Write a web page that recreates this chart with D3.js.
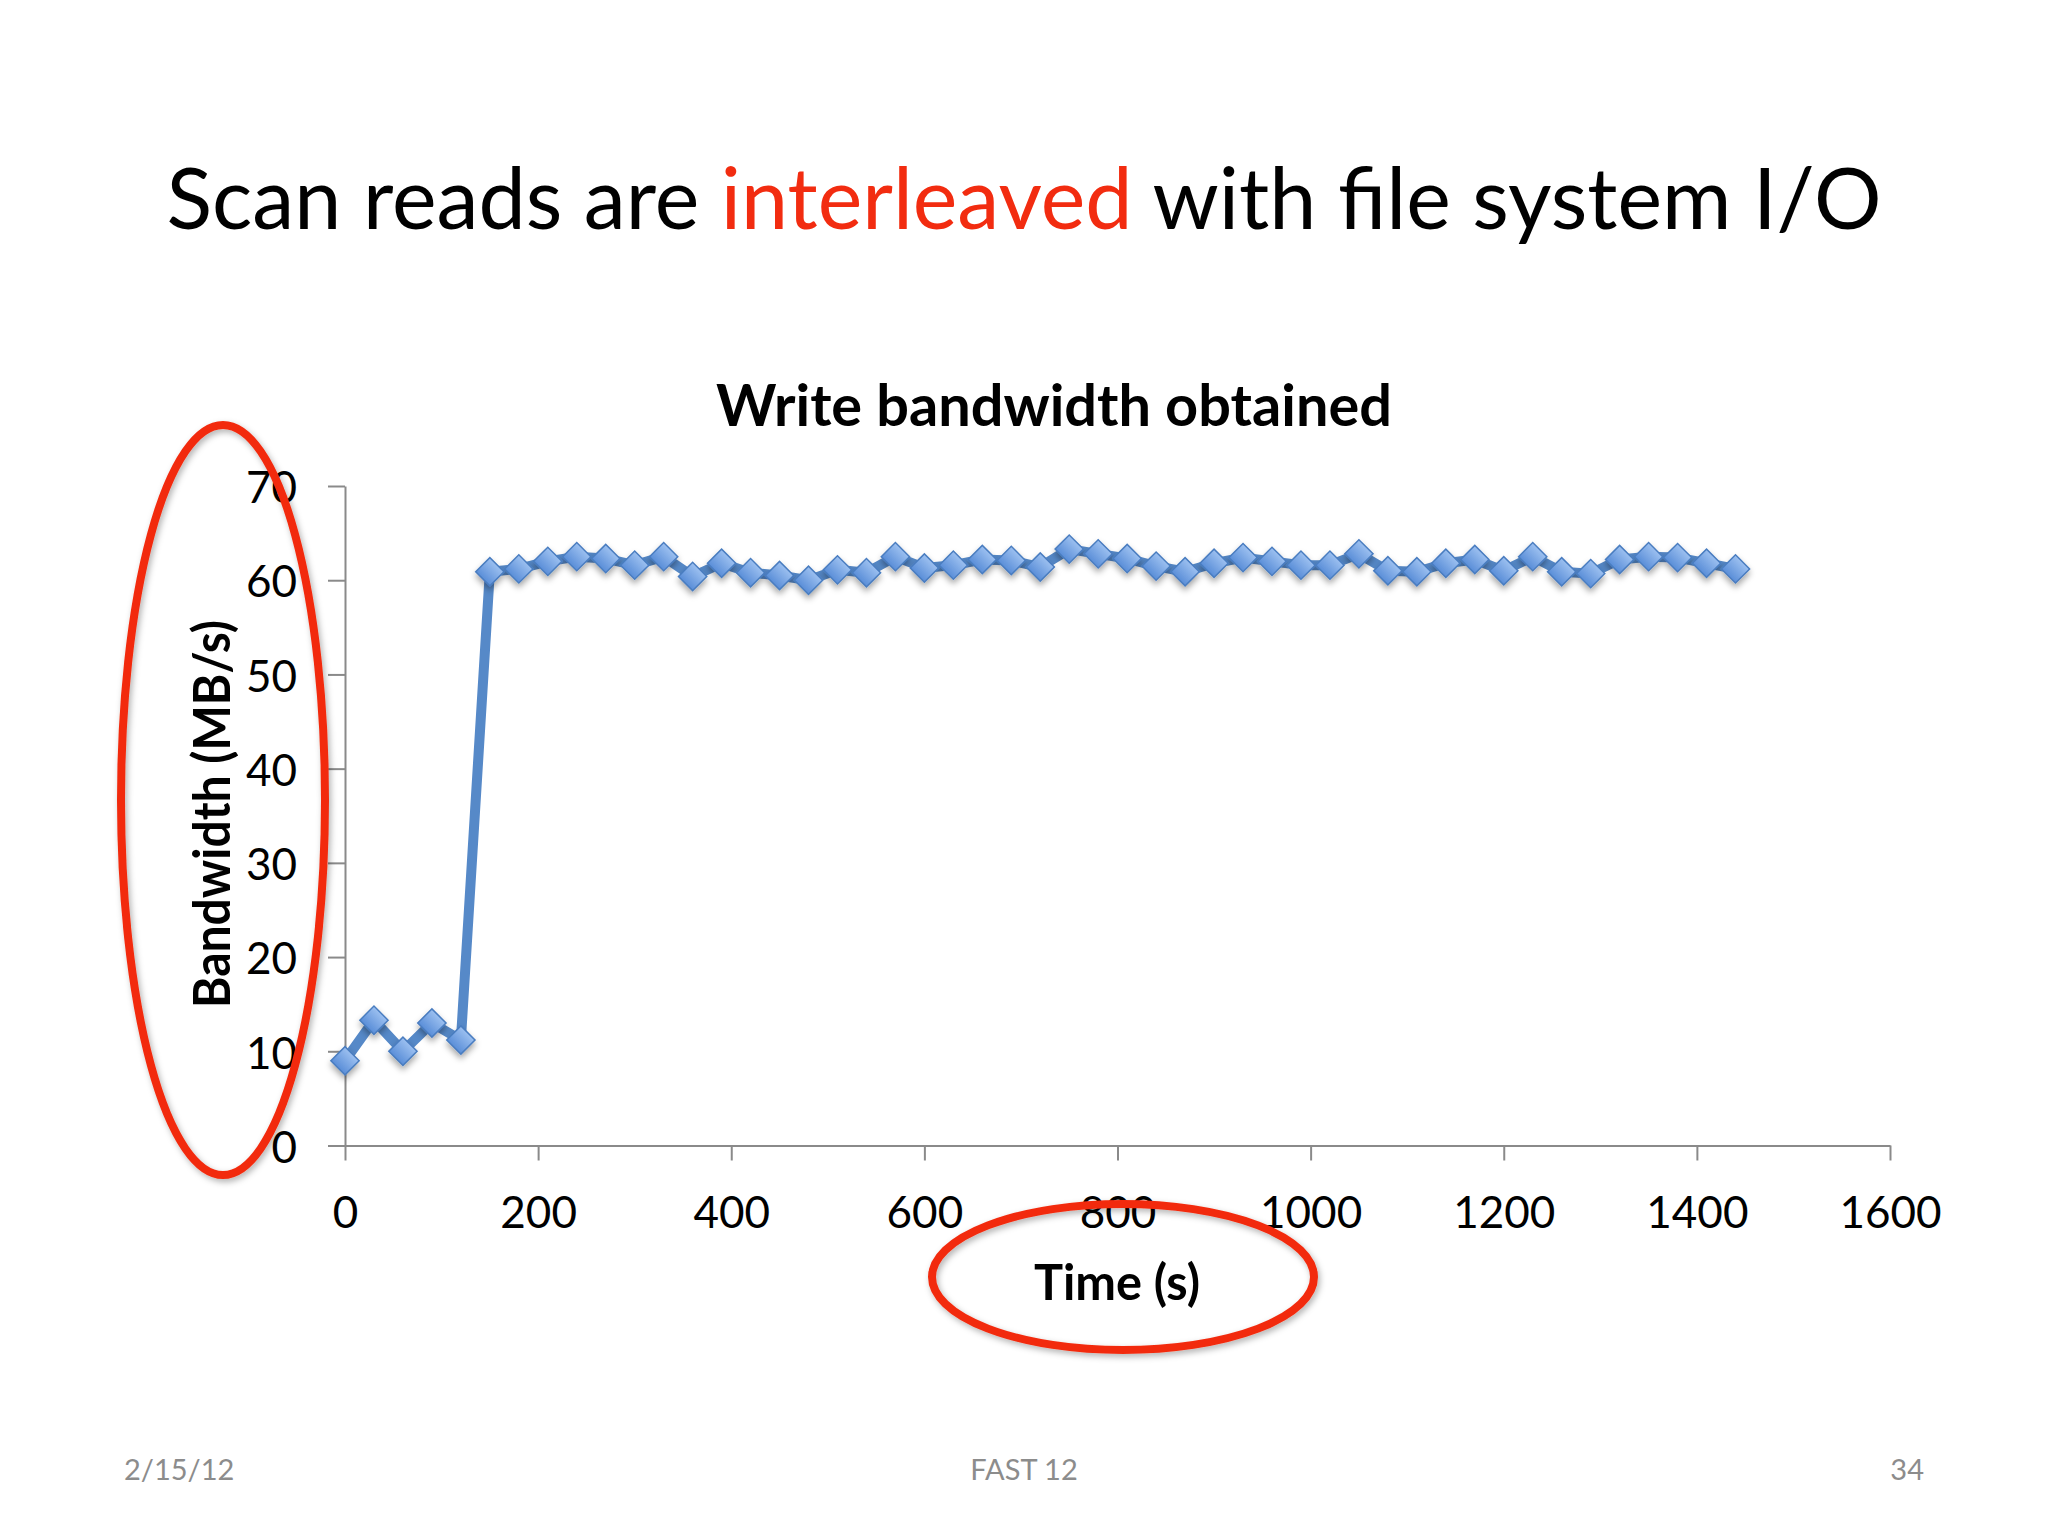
<!DOCTYPE html>
<html>
<head>
<meta charset="utf-8">
<script src="https://cdn.jsdelivr.net/npm/d3@7"></script>
<style>
  html, body { margin: 0; padding: 0; background: #ffffff; }
  svg { display: block; }
</style>
</head>
<body>
<svg id="chart" width="2048" height="1536"></svg>
<script>
// ---------------- data ----------------
const times = [0, 30, 60, 90, 120, 150, 180, 210, 240, 270, 300, 330, 360, 390,
  420, 450, 480, 510, 540, 570, 600, 630, 660, 690, 720, 750, 780, 810, 840, 870,
  900, 930, 960, 990, 1020, 1050, 1080, 1110, 1140, 1170, 1200, 1230, 1260, 1290,
  1320, 1350, 1380, 1410, 1440];
const bandwidth = [9.0, 13.3, 10.0, 13.0, 11.2, 60.9, 61.2, 62.0, 62.5, 62.3, 61.6, 62.5, 60.4, 61.8,
  60.8, 60.5, 60.0, 61.1, 60.8, 62.5, 61.3, 61.6, 62.2, 62.1, 61.4, 63.3, 62.8, 62.3, 61.5, 60.9,
  61.8, 62.4, 62.0, 61.6, 61.6, 62.8, 61.0, 60.9, 61.8, 62.2, 61.0, 62.5, 60.9, 60.7,
  62.2, 62.5, 62.4, 61.8, 61.2];
const xTicks = [0, 200, 400, 600, 800, 1000, 1200, 1400, 1600];
const yTicks = [0, 10, 20, 30, 40, 50, 60, 70];
const titleParts = [
  { text: "Scan reads are ", highlight: false },
  { text: "interleaved", highlight: true },
  { text: " with file system I/O", highlight: false }
];
const chartTitle = "Write bandwidth obtained";
const xLabel = "Time (s)";
const yLabel = "Bandwidth (MB/s)";
const footer = { left: "2/15/12", center: "FAST 12", right: "34" };

// ---------------- layout ----------------
const svg = d3.select("#chart");
const FONT = "Lato, 'Open Sans', 'DejaVu Sans', sans-serif";
const RED = "#f22c10";
const AXIS = "#8a8a8a";

const x = d3.scaleLinear().domain([0, 1600]).range([345, 1890]);
const y = d3.scaleLinear().domain([0, 70]).range([1145.5, 486]);

// defs
const defs = svg.append("defs");
const grad = defs.append("linearGradient").attr("id", "mk")
  .attr("x1", 0).attr("y1", 0).attr("x2", 0).attr("y2", 1);
grad.append("stop").attr("offset", "0%").attr("stop-color", "#9cc0f0");
grad.append("stop").attr("offset", "100%").attr("stop-color", "#5a8ed8");
const sh = defs.append("filter").attr("id", "shadow")
  .attr("x", "-50%").attr("y", "-50%").attr("width", "200%").attr("height", "200%");
sh.append("feDropShadow").attr("dx", 0).attr("dy", 4).attr("stdDeviation", 3)
  .attr("flood-color", "#000").attr("flood-opacity", 0.35);
const sh2 = defs.append("filter").attr("id", "shadow2")
  .attr("x", "-20%").attr("y", "-20%").attr("width", "140%").attr("height", "140%");
sh2.append("feDropShadow").attr("dx", 2).attr("dy", 3).attr("stdDeviation", 3)
  .attr("flood-color", "#000").attr("flood-opacity", 0.3);

// slide title
const t = svg.append("text")
  .attr("x", 1024).attr("y", 229)
  .attr("text-anchor", "middle")
  .attr("font-family", FONT).attr("font-size", 86)
  .attr("textLength", 1715).attr("lengthAdjust", "spacingAndGlyphs");
titleParts.forEach(p => {
  t.append("tspan").text(p.text).attr("fill", p.highlight ? RED : "#000");
});

// chart title
svg.append("text")
  .attr("x", 1054).attr("y", 426)
  .attr("text-anchor", "middle")
  .attr("font-family", FONT).attr("font-weight", "bold").attr("font-size", 58)
  .attr("textLength", 676).attr("lengthAdjust", "spacingAndGlyphs")
  .text(chartTitle);

// y axis
const yAxis = svg.append("g")
  .attr("transform", `translate(${x(0)},0)`)
  .call(d3.axisLeft(y).tickValues(yTicks).tickFormat(d3.format("d"))
    .tickSize(17).tickPadding(31).tickSizeOuter(0));
yAxis.select(".domain").attr("stroke", AXIS).attr("stroke-width", 2);
yAxis.selectAll(".tick line").attr("stroke", AXIS).attr("stroke-width", 2);
yAxis.selectAll(".tick text")
  .attr("font-family", FONT).attr("font-size", 44).attr("fill", "#000")
  .attr("dy", "0.38em");

// x axis
const xAxis = svg.append("g")
  .attr("transform", `translate(0,${y(0)})`)
  .call(d3.axisBottom(x).tickValues(xTicks).tickFormat(d3.format("d"))
    .tickSize(15).tickPadding(36).tickSizeOuter(0));
xAxis.select(".domain").attr("stroke", AXIS).attr("stroke-width", 2);
xAxis.selectAll(".tick line").attr("stroke", AXIS).attr("stroke-width", 2);
xAxis.selectAll(".tick text")
  .attr("font-family", FONT).attr("font-size", 44).attr("fill", "#000");

// axis titles
svg.append("text")
  .attr("x", 1117).attr("y", 1300)
  .attr("text-anchor", "middle")
  .attr("font-family", FONT).attr("font-weight", "bold").attr("font-size", 50)
  .attr("textLength", 166).attr("lengthAdjust", "spacingAndGlyphs")
  .text(xLabel);
svg.append("text")
  .attr("transform", "translate(230,814) rotate(-90)")
  .attr("text-anchor", "middle")
  .attr("font-family", FONT).attr("font-weight", "bold").attr("font-size", 52)
  .attr("textLength", 388).attr("lengthAdjust", "spacingAndGlyphs")
  .text(yLabel);

// series
const line = d3.line().x((d, i) => x(times[i])).y(d => y(d));
svg.append("path")
  .datum(bandwidth)
  .attr("d", line)
  .attr("fill", "none")
  .attr("stroke", "#5689c8")
  .attr("stroke-width", 10)
  .attr("stroke-linejoin", "round");

const sym = d3.symbol().type(d3.symbolSquare).size(400);
svg.append("g").attr("filter", "url(#shadow)")
  .selectAll("path")
  .data(bandwidth)
  .join("path")
  .attr("d", sym)
  .attr("transform", (d, i) => `translate(${x(times[i])},${y(d)}) rotate(45)`)
  .attr("fill", "url(#mk)")
  .attr("stroke", "#4a7dc0")
  .attr("stroke-width", 1.5);

// red annotation ellipses
svg.append("ellipse")
  .attr("cx", 223).attr("cy", 800).attr("rx", 102).attr("ry", 375)
  .attr("fill", "none").attr("stroke", RED).attr("stroke-width", 8)
  .attr("filter", "url(#shadow2)");
svg.append("ellipse")
  .attr("cx", 1123).attr("cy", 1277).attr("rx", 191).attr("ry", 73)
  .attr("fill", "none").attr("stroke", RED).attr("stroke-width", 8)
  .attr("filter", "url(#shadow2)");

// footer
const FG = "#8c8c8c";
svg.append("text").attr("x", 124).attr("y", 1480)
  .attr("font-family", FONT).attr("font-size", 29).attr("fill", FG).text(footer.left);
svg.append("text").attr("x", 1024).attr("y", 1480).attr("text-anchor", "middle")
  .attr("font-family", FONT).attr("font-size", 29).attr("fill", FG).text(footer.center);
svg.append("text").attr("x", 1924).attr("y", 1480).attr("text-anchor", "end")
  .attr("font-family", FONT).attr("font-size", 29).attr("fill", FG).text(footer.right);
</script>
</body>
</html>
